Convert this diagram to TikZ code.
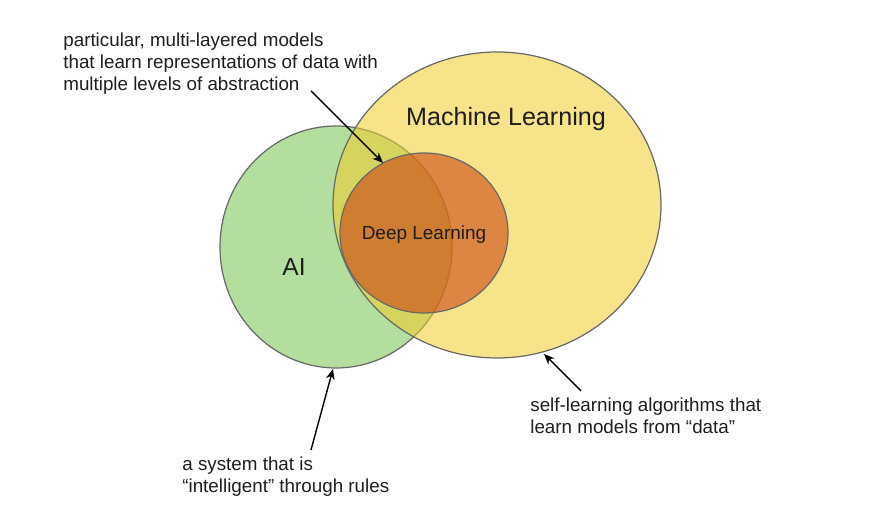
\documentclass[tikz,border=0pt]{standalone}
\usepackage{fontspec}
\setmainfont{Liberation Sans}
\usepackage{tikz}
\usetikzlibrary{calc, arrows.meta}

\definecolor{aigreen}{RGB}{180,222,158}
\definecolor{mlyellow}{RGB}{240,205,42}
\definecolor{dlorange}{RGB}{205,70,20}
\definecolor{rim}{RGB}{105,105,105}
\definecolor{ink}{RGB}{30,30,30}

\tikzset{
	setbox/.style = {draw = rim, line width = 0.7pt},
	note/.style = {align = left, inner sep = 0pt, text = ink, font = \fontsize{10.7}{12.5}\selectfont},
	pointer/.style = {-{Stealth[length = 6pt, width = 5pt]}, line width = 0.8pt, black}
}

\begin{document}
\begin{tikzpicture}[x = 0.02cm, y = -0.02cm]
	%frame of the picture
	\useasboundingbox (0,0) rectangle (894,519);
	
	%centres of the sets
	\coordinate (AI) at (336,247);
	\coordinate (ML) at (497,205);
	\coordinate (DL) at (424,233);
	
	%sets
	\draw [setbox, fill = aigreen] (AI) ellipse [x radius = 116, y radius = 121];
	\draw [setbox, fill = mlyellow, fill opacity = 0.55] (ML) ellipse [x radius = 164, y radius = 153];
	\draw [setbox, fill = dlorange, fill opacity = 0.6] (DL) ellipse [x radius = 84, y radius = 80];
	
	%set names
	\node [text = ink, font = \fontsize{14.3}{16}\selectfont] (mlname) at (506,119) {Machine Learning};
	\node [text = ink, font = \fontsize{10.8}{13}\selectfont] (dlname) at (424,235) {Deep Learning};
	\node [text = ink, font = \fontsize{14}{16}\selectfont] (ainame) at (294,267) {AI};
	
	%notes
	\node [note, anchor = north west] (dlnote) at (63,33) {particular, multi-layered models\\that learn representations of data with\\multiple levels of abstraction};
	\node [note, anchor = north west] (mlnote) at (530,398) {self-learning algorithms that\\learn models from “data”};
	\node [note, anchor = north west] (ainote) at (182,457) {a system that is\\“intelligent” through rules};
	
	%pointers
	\coordinate (dlfrom) at (311,91);
	\coordinate (dlto) at (383,163);
	\coordinate (mlfrom) at (581,391);
	\coordinate (mlto) at (544,354);
	\coordinate (aifrom) at (311,450);
	\coordinate (aito) at (333,369);
	
	\draw [pointer] (dlfrom) -- (dlto);
	\draw [pointer] (mlfrom) -- (mlto);
	\draw [pointer] (aifrom) -- (aito);
\end{tikzpicture}
\end{document}
